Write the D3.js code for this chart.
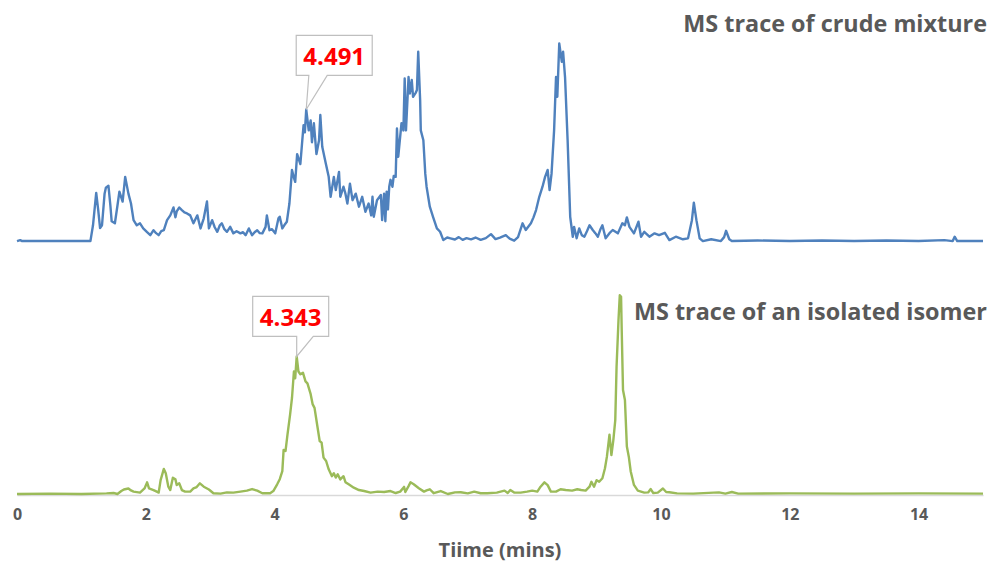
<!DOCTYPE html>
<html>
<head>
<meta charset="utf-8">
<script src="https://cdn.jsdelivr.net/npm/d3@7"></script>
<style>
  body { margin: 0; background: #fff; }
  svg { display: block; font-family: "Open Sans", "DejaVu Sans", sans-serif; }
</style>
</head>
<body>
<div id="chart"></div>
<script>
// MS traces, crude mixture (top) vs isolated isomer (bottom), shared time axis.

const xTicks = [0, 2, 4, 6, 8, 10, 12, 14];
const blueOffset = 128; // crude trace is stacked above the isomer trace

// [time (min), intensity]
const crudeTrace = [
  [0, 0], [0.05, 0.5], [0.08, 0], [1.14, 0], [1.18, 8], [1.23, 24.4], [1.26, 16], [1.29, 6.6], [1.32, 8],
  [1.36, 24], [1.38, 27], [1.42, 28], [1.45, 18], [1.47, 10], [1.52, 9], [1.56, 18], [1.59, 25], [1.64, 20],
  [1.68, 32.5], [1.73, 24], [1.77, 19], [1.81, 10.6], [1.86, 8], [1.91, 9], [1.96, 6.4], [2.02, 4.5], [2.07, 3],
  [2.12, 5.5], [2.16, 4], [2.2, 3], [2.24, 5], [2.28, 5.5], [2.33, 10.6], [2.38, 13], [2.43, 17], [2.46, 12],
  [2.48, 15], [2.52, 17], [2.56, 15.7], [2.6, 14.5], [2.64, 14], [2.69, 13], [2.74, 9], [2.77, 11], [2.8, 13],
  [2.85, 6.4], [2.9, 11.5], [2.95, 20], [2.98, 6.4], [3.03, 10.6], [3.07, 7], [3.11, 4.7], [3.15, 8], [3.18, 9],
  [3.22, 6], [3.26, 4.7], [3.31, 7.2], [3.36, 3.9], [3.41, 5], [3.47, 3.9], [3.51, 4.5], [3.55, 3], [3.6, 6.4],
  [3.65, 3], [3.69, 4.5], [3.73, 5.5], [3.77, 4], [3.81, 3.9], [3.86, 7.2], [3.88, 13], [3.92, 5.5], [3.96, 6],
  [4.01, 3.9], [4.06, 11.5], [4.08, 12.3], [4.12, 6.4], [4.15, 8], [4.19, 9.8], [4.23, 19], [4.27, 36], [4.3, 32],
  [4.32, 30], [4.35, 44], [4.4, 39], [4.43, 51], [4.45, 58.7], [4.47, 55], [4.491, 66.6], [4.53, 56], [4.56, 61],
  [4.58, 50], [4.61, 59.6], [4.65, 44], [4.69, 51], [4.71, 63.8], [4.74, 47.7], [4.79, 40], [4.84, 32.5],
  [4.87, 22.4], [4.92, 32.5], [4.95, 25.8], [5.0, 35], [5.02, 22.4], [5.07, 27.5], [5.1, 24], [5.13, 19],
  [5.17, 29], [5.21, 20.7], [5.26, 24], [5.31, 17.4], [5.36, 22.4], [5.41, 14.8], [5.46, 19], [5.5, 13],
  [5.52, 22.4], [5.54, 12.3], [5.59, 20.7], [5.65, 23.3], [5.67, 10.6], [5.7, 24], [5.72, 10], [5.74, 25],
  [5.76, 16], [5.78, 27.5], [5.8, 31], [5.83, 27.5], [5.85, 33], [5.88, 32.5], [5.9, 57], [5.92, 42.7],
  [5.97, 59.6], [6.0, 56], [6.02, 82.3], [6.04, 56], [6.08, 83], [6.1, 74.7], [6.13, 81.5], [6.15, 73],
  [6.19, 75], [6.21, 76.4], [6.23, 95.8], [6.26, 71.4], [6.27, 56], [6.31, 51], [6.34, 34], [6.36, 27.5],
  [6.41, 17.4], [6.46, 12.3], [6.52, 6.4], [6.57, 4.7], [6.62, 0.5], [6.68, 1.8], [6.73, 1.4], [6.8, 0.8],
  [6.86, 2], [6.92, 0.6], [6.98, 1.5], [7.05, 0.9], [7.12, 1.8], [7.2, 0.6], [7.28, 1.5], [7.36, 3.5], [7.43, 1],
  [7.5, 1.8], [7.59, 3], [7.65, 1.2], [7.72, 0.2], [7.78, 2], [7.85, 9], [7.9, 5.6], [7.98, 9], [8.02, 12],
  [8.06, 15.7], [8.11, 22.4], [8.16, 27.5], [8.2, 32.5], [8.24, 36], [8.27, 25.8], [8.3, 34], [8.34, 56],
  [8.37, 83], [8.39, 73], [8.42, 100], [8.46, 90.7], [8.48, 95.8], [8.51, 83], [8.55, 51], [8.59, 12.3],
  [8.63, 2.2], [8.65, 7.2], [8.69, 1.4], [8.73, 6.4], [8.77, 3], [8.81, 2.2], [8.85, 5], [8.89, 8], [8.94, 5.6],
  [8.98, 4], [9.02, 2.2], [9.06, 6], [9.09, 8], [9.14, 1.4], [9.2, 4], [9.25, 5.6], [9.33, 3.9], [9.4, 9],
  [9.44, 8], [9.47, 12], [9.51, 7.2], [9.58, 3.9], [9.65, 9.8], [9.69, 2.2], [9.74, 4.7], [9.82, 2.2], [9.9, 3.9],
  [9.97, 3], [10.06, 4.2], [10.13, 0.5], [10.23, 2.2], [10.34, 0.9], [10.42, 1.4], [10.48, 10.6], [10.51, 19.4],
  [10.55, 10.6], [10.6, 1.4], [10.65, 0], [10.78, 0.9], [10.93, 0], [10.98, 2], [11.01, 5.2], [11.06, 0.9],
  [11.1, 0], [11.5, 0.3], [12, 0], [12.5, 0.3], [13, 0], [13.5, 0.3], [14, 0], [14.4, 0.5], [14.53, 0],
  [14.56, 2.2], [14.6, 0], [15, 0]
];

const isomerTrace = [
  [0, 0], [0.5, 0.2], [1.0, 0], [1.39, 0.3], [1.5, 0.5], [1.56, 0], [1.62, 1.5], [1.66, 2.3], [1.73, 2.8],
  [1.77, 1.8], [1.81, 1.2], [1.91, 0.7], [1.98, 2.8], [2.02, 5.9], [2.05, 2.8], [2.12, 2], [2.17, 1.2], [2.2, 0.7],
  [2.23, 7], [2.28, 12.7], [2.31, 10.5], [2.35, 3.7], [2.38, 2], [2.42, 8.2], [2.46, 7.4], [2.48, 4.5], [2.52, 5.4],
  [2.56, 2], [2.61, 1.2], [2.69, 1.2], [2.74, 2.8], [2.79, 3.5], [2.84, 5.4], [2.9, 3.7], [2.98, 2.3], [3.05, 0.4],
  [3.16, 0.2], [3.26, 0.8], [3.36, 0.7], [3.47, 1.2], [3.57, 1.7], [3.65, 2.5], [3.73, 1.7], [3.81, 0.4],
  [3.93, 0.4], [3.98, 1.5], [4.04, 4.9], [4.08, 7.5], [4.12, 11.6], [4.14, 22.3], [4.17, 21.8], [4.2, 30],
  [4.24, 40], [4.27, 48.6], [4.3, 62], [4.32, 58.6], [4.343, 69.6], [4.37, 62], [4.4, 60.6], [4.44, 61.4],
  [4.48, 57], [4.51, 56], [4.56, 50.5], [4.59, 45.5], [4.62, 43.6], [4.66, 35.2], [4.7, 26.8], [4.73, 26],
  [4.76, 18.4], [4.8, 16.7], [4.84, 12.5], [4.89, 9], [4.92, 10.5], [4.95, 8.3], [4.98, 10], [5.02, 7.4],
  [5.07, 9], [5.1, 6], [5.15, 4.9], [5.23, 3.2], [5.31, 2], [5.39, 1.5], [5.49, 0.7], [5.6, 1.2], [5.7, 1],
  [5.8, 1.5], [5.88, 0.5], [5.95, 1.2], [6.01, 3.6], [6.03, 1], [6.08, 4], [6.11, 5.9], [6.16, 4.9], [6.24, 2.9],
  [6.32, 1.2], [6.36, 1.8], [6.41, 2.4], [6.47, 0.4], [6.58, 1.5], [6.69, 0], [6.8, 0.8], [6.89, 0.9], [7.0, 0.3],
  [7.1, 1.2], [7.2, 0.4], [7.3, 0.4], [7.45, 0.7], [7.57, 1.7], [7.62, 0.5], [7.66, 2], [7.72, 0.7], [7.82, 0.7],
  [7.92, 1.2], [8.0, 1.7], [8.08, 1.2], [8.13, 3.7], [8.19, 5.9], [8.24, 4.5], [8.29, 1.2], [8.37, 1.2],
  [8.44, 2.4], [8.52, 2], [8.62, 1.7], [8.7, 2.4], [8.76, 2], [8.83, 1.7], [8.89, 3.7], [8.92, 6.2], [8.96, 3.7],
  [9.0, 7], [9.04, 6.2], [9.09, 8], [9.13, 13], [9.16, 18.9], [9.2, 30], [9.23, 19.7], [9.26, 27.3], [9.29, 37.4],
  [9.31, 64.4], [9.34, 88], [9.36, 100.6], [9.38, 99.8], [9.39, 83], [9.41, 52.6], [9.44, 47.6], [9.47, 24],
  [9.5, 18.9], [9.53, 11.4], [9.58, 4.6], [9.64, 1.7], [9.74, 0.7], [9.8, 0.8], [9.84, 2.5], [9.88, 0.5],
  [9.95, 0.7], [10.03, 2.8], [10.08, 1], [10.13, 0.9], [10.25, 0.3], [10.5, 0.2], [10.9, 0.8], [11.0, 0.2],
  [11.1, 1], [11.2, 0.2], [12, 0.3], [13, 0.2], [14, 0.3], [15, 0.2]
];

const seriesNames = ["MS trace of crude mixture", "MS trace of an isolated isomer"];
const peakLabels = [4.491, 4.343];

const W = 992, H = 563;
const margin = { left: 17, right: 9, bottom: 69 };
const GRAY = "#595959";
const BLUE = "#4f81bd", GREEN = "#9bbb59";

const svg = d3.select("#chart").append("svg").attr("width", W).attr("height", H);

const x = d3.scaleLinear().domain([0, 15]).range([margin.left, W - margin.right]);
const y = d3.scaleLinear().domain([0, 250]).range([H - margin.bottom, 0]);

// x axis: light rule + bold labels, no tick marks
const axisY = y(0) + 1;
const gX = svg.append("g").attr("transform", `translate(0,${axisY})`)
  .call(d3.axisBottom(x).tickValues(xTicks).tickSize(0).tickPadding(14).tickFormat(d3.format("d")));
gX.select(".domain").attr("stroke", "#d9d9d9").attr("stroke-width", 1.3);
gX.selectAll(".tick text")
  .attr("font-family", "'Open Sans', sans-serif").attr("font-size", 16).attr("font-weight", 700).attr("fill", GRAY);

svg.append("text")
  .attr("x", (x(0) + x(15)) / 2).attr("y", 557)
  .attr("text-anchor", "middle").attr("font-size", 20).attr("font-weight", 700).attr("fill", GRAY)
  .text("Tiime (mins)");

const traces = [
  { name: seriesNames[0], data: crudeTrace, offset: blueOffset, color: BLUE, peak: peakLabels[0],
    titleY: 31.5, box: { dx: 28, gap: 34, base0: 2.6, base1: 21 } },
  { name: seriesNames[1], data: isomerTrace, offset: 0, color: GREEN, peak: peakLabels[1],
    titleY: 320, box: { dx: -6, gap: 20, base0: 0, base1: 16.6 } }
];

const line = off => d3.line().x(d => x(d[0])).y(d => y(d[1] + off));

for (const t of traces) {
  svg.append("path")
    .datum(t.data)
    .attr("fill", "none")
    .attr("stroke", t.color)
    .attr("stroke-width", 2.4)
    .attr("stroke-linejoin", "round")
    .attr("d", line(t.offset));

  svg.append("text")
    .attr("x", 987).attr("y", t.titleY)
    .attr("text-anchor", "end").attr("font-size", 23.4).attr("font-weight", 700).attr("fill", GRAY)
    .text(t.name);

  // callout on the labelled peak
  const pk = t.data.find(d => d[0] === t.peak);
  const px = x(pk[0]), py = y(pk[1] + t.offset);
  const bw = 76, bh = 40;
  const bottom = py - t.box.gap, top = bottom - bh;
  const left = px + t.box.dx - bw / 2, right = left + bw;
  const p = d3.path();
  p.moveTo(left, top); p.lineTo(right, top); p.lineTo(right, bottom);
  p.lineTo(px + t.box.base1, bottom); p.lineTo(px, py); p.lineTo(px + t.box.base0, bottom);
  p.lineTo(left, bottom); p.closePath();
  svg.append("path").attr("d", p.toString())
    .attr("fill", "#fff").attr("stroke", "#bfbfbf").attr("stroke-width", 1.2);
  svg.append("text")
    .attr("x", (left + right) / 2).attr("y", top + 30)
    .attr("text-anchor", "middle").attr("font-size", 24).attr("font-weight", 700).attr("fill", "#ff0000")
    .text(d3.format(".3f")(t.peak));
}
</script>
</body>
</html>
